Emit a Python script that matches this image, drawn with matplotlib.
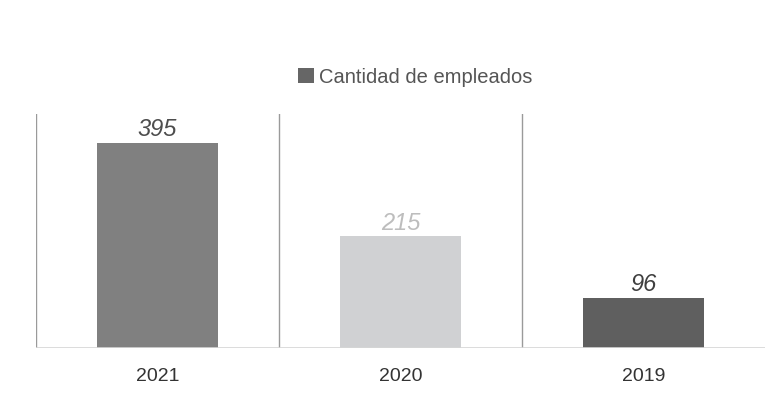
import matplotlib
matplotlib.use("Agg")
import matplotlib.pyplot as plt
from matplotlib.patches import Patch

plt.rcParams['font.family'] = ['Liberation Sans', 'DejaVu Sans']

categories = ["2021", "2020", "2019"]
values = [395, 215, 96]
bar_colors = ["#808080", "#d0d1d3", "#5f5f5f"]
label_colors = ["#4d4d4d", "#bdbdbd", "#3f3f3f"]
series_name = "Cantidad de empleados"

fig = plt.figure(figsize=(7.78, 4.02), dpi=100)
ax = fig.add_axes([36/778, 53/402, 729/778, 234/402])

x = list(range(len(categories)))
bars = ax.bar(x, values, width=0.5, color=bar_colors, zorder=2)
ax.set_xlim(-0.5, len(categories) - 0.5)
ax.set_ylim(0, 451)

for xi, v, c in zip(x, values, label_colors):
    ax.annotate(str(v), (xi, v), xytext=(0, 2), textcoords='offset points',
                ha='center', va='bottom', fontsize=17, style='italic',
                fontweight='medium', color=c)

for b in [-0.5, 0.5, 1.5]:
    ax.axvline(b, color='#9a9a9a', lw=1.0, zorder=1)

for s in ax.spines.values():
    s.set_visible(False)
ax.axhline(0, color='#d6d6d6', lw=1.2, zorder=3)

ax.set_yticks([])
ax.set_xticks(x)
ax.set_xticklabels(categories, fontsize=14, color='#333333')
ax.tick_params(axis='x', length=0, pad=14)

fig.legend(handles=[Patch(facecolor='#666666', edgecolor='none')],
           labels=[series_name], loc='center', bbox_to_anchor=(0.534, 0.806),
           frameon=False, fontsize=14.5, handlelength=0.8, handleheight=0.8,
           handletextpad=0.25, labelcolor='#555555')

fig.savefig("out.png", dpi=100, facecolor='white')
